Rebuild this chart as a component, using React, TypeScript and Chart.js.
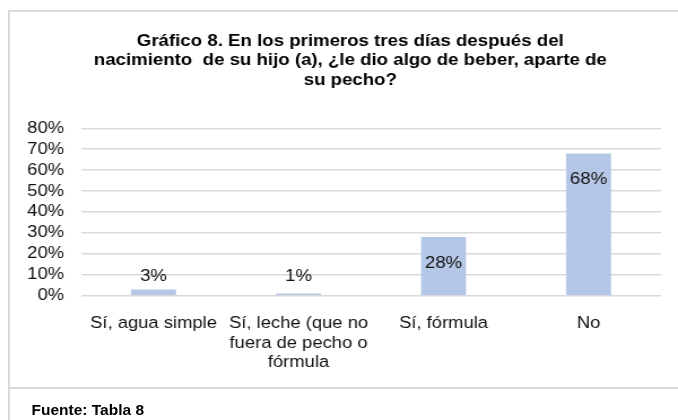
import React, { useEffect, useRef } from "react";
import { Chart, registerables } from "chart.js";

Chart.register(...registerables);

const titleLines = [
  "Gráfico 8. En los primeros tres días después del",
  "nacimiento  de su hijo (a), ¿le dio algo de beber, aparte de",
  "su pecho?",
];
const categories = [
  "Sí, agua simple",
  ["Sí, leche (que no", "fuera de pecho o", "fórmula"],
  "Sí, fórmula",
  "No",
];
const values = [3, 1, 28, 68];
const yTicks = [0, 10, 20, 30, 40, 50, 60, 70, 80];
const sourceText = "Fuente: Tabla 8";

const SX = 1.13;
const CW = 620;
const CH = 420;
const FONT = "'Liberation Sans', Arial, Helvetica, sans-serif";

const dataLabels = {
  id: "dataLabels",
  afterDatasetsDraw(chart: any) {
    const ctx = chart.ctx;
    const meta = chart.getDatasetMeta(0);
    ctx.save();
    ctx.font = `16.5px ${FONT}`;
    ctx.fillStyle = "#111";
    ctx.textAlign = "center";
    ctx.textBaseline = "middle";
    meta.data.forEach((bar: any, i: number) => {
      const v = chart.data.datasets[0].data[i];
      const y = Math.min(bar.y + 26.5, bar.base - 18.5);
      ctx.fillText(`${v}%`, bar.x, y);
    });
    ctx.restore();
  },
};

export default function App() {
  const ref = useRef<HTMLCanvasElement>(null);
  useEffect(() => {
    if (!ref.current) return;
    const chart = new Chart(ref.current, {
      type: "bar",
      data: {
        labels: categories as any,
        datasets: [
          {
            data: values,
            backgroundColor: "#b4c7e7",
            barPercentage: 0.31,
            categoryPercentage: 1,
          },
        ],
      },
      options: {
        animation: false,
        responsive: false,
        devicePixelRatio: 1,
        layout: { padding: 0 },
        plugins: {
          legend: { display: false },
          tooltip: { enabled: false },
          title: {
            display: true,
            text: titleLines,
            color: "#000",
            font: { family: FONT, size: 16.5, weight: "bold", lineHeight: 1.17 },
            padding: { top: 31.7, bottom: 38.7 },
          },
        },
        scales: {
          x: {
            grid: { display: false },
            border: { display: false },
            ticks: {
              color: "#111",
              font: { family: FONT, size: 16.3, lineHeight: 1.2 },
              padding: 10,
              autoSkip: false,
              maxRotation: 0,
            },
            afterFit(scale: any) {
              scale.height = 124.3;
            },
          },
          y: {
            min: 0,
            max: 80,
            border: { display: false },
            grid: { color: "#d9d9d9", lineWidth: 1.5, drawTicks: false },
            afterBuildTicks(scale: any) {
              scale.ticks = yTicks.map((v) => ({ value: v }));
            },
            ticks: {
              color: "#111",
              font: { family: FONT, size: 16.3 },
              padding: 15,
              autoSkip: false,
              callback: (v: any) => `${v}%`,
            },
            afterFit(scale: any) {
              scale.width = 71.7;
            },
          },
          yRight: {
            position: "right",
            display: true,
            min: 0,
            max: 80,
            border: { display: false },
            grid: { display: false },
            ticks: { display: false },
            afterFit(scale: any) {
              scale.width = CW - 585;
            },
          },
        },
      },
      plugins: [dataLabels],
    });
    return () => chart.destroy();
  }, []);

  return (
    <div
      style={{
        position: "fixed",
        left: 0,
        top: 0,
        width: 678,
        height: 420,
        overflow: "hidden",
        background: "#fff",
      }}
    >
      <div
        style={{
          position: "absolute",
          left: 8,
          top: 10,
          width: 720,
          height: 500,
          border: "2px solid #d9d9d9",
          boxSizing: "border-box",
        }}
      />
      <div
        style={{
          position: "absolute",
          left: 8,
          top: 387,
          width: 720,
          height: 2,
          background: "#d9d9d9",
        }}
      />
      <div
        style={{
          position: "absolute",
          left: 0,
          top: 0,
          width: CW,
          height: CH,
          transform: `scaleX(${SX})`,
          transformOrigin: "0 0",
        }}
      >
        <canvas ref={ref} width={CW} height={CH} style={{ display: "block" }} />
      </div>
      <div
        style={{
          position: "absolute",
          left: 31.5,
          top: 401,
          fontFamily: FONT,
          fontWeight: "bold",
          fontSize: 15.5,
          lineHeight: "18px",
          color: "#000",
          whiteSpace: "nowrap",
        }}
      >
        {sourceText}
      </div>
    </div>
  );
}
